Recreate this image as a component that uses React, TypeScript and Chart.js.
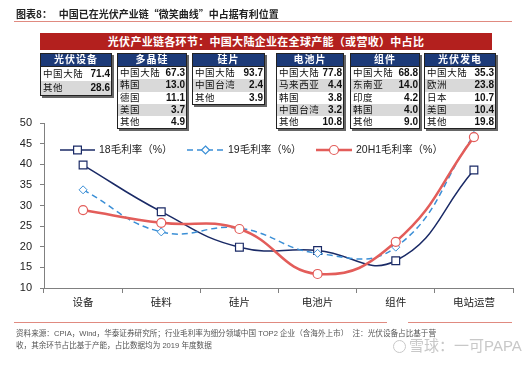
import React, { useEffect, useRef } from "react";
import { Chart, registerables } from "chart.js";

Chart.register(...registerables);

const categories = ["设备", "硅料", "硅片", "电池片", "组件", "电站运营"];
const margin18 = [39.8, 28.5, 19.9, 19.1, 16.6, 38.6];
const margin19 = [33.8, 23.6, 24.5, 18.4, 19.9, 47.0];
const margin20H1 = [28.9, 25.8, 24.3, 13.4, 21.2, 46.6];
const seriesNames = ["18毛利率（%）", "19毛利率（%）", "20H1毛利率（%）"];
const yTicks = { min: 10, max: 50, step: 5 };

const tableTitles = ["光伏设备", "多晶硅", "硅片", "电池片", "组件", "光伏发电"];
const tableRegions = [
  ["中国大陆", "其他"],
  ["中国大陆", "韩国", "德国", "美国", "其他"],
  ["中国大陆", "中国台湾", "其他"],
  ["中国大陆", "马来西亚", "韩国", "中国台湾", "其他"],
  ["中国大陆", "东南亚", "印度", "韩国", "其他"],
  ["中国大陆", "欧洲", "日本", "美国", "其他"],
];
const tableShares = [
  ["71.4", "28.6"],
  ["67.3", "13.0", "11.1", "3.7", "4.9"],
  ["93.7", "2.4", "3.9"],
  ["77.8", "4.4", "3.8", "3.2", "10.8"],
  ["68.8", "14.0", "4.2", "4.0", "9.0"],
  ["35.3", "23.8", "10.7", "10.4", "19.8"],
];

const tableX = [40, 117, 192, 276, 350, 424];
const tableW = [72, 70, 73, 68, 70, 72];

const CJK = '"Liberation Sans", Arial, "Noto Sans CJK SC", sans-serif';
const CJKF = '"Noto Sans CJK SC", sans-serif';

const NAVY = "#1a2a66";
const BLUE = "#3b8fd6";
const RED = "#e35d5a";

const legendPlugin = {
  id: "insideLegend",
  afterDraw(chart: any) {
    const ctx = chart.ctx;
    const y = 150;
    const items = [
      { x0: 60, x1: 95, tx: 99, color: NAVY, dash: [], style: "rect", r: 5.5, w: 1.5 },
      { x0: 187, x1: 224, tx: 228, color: BLUE, dash: [6, 4], style: "rectRot", r: 4, w: 1.5 },
      { x0: 316, x1: 352, tx: 356, color: RED, dash: [], style: "circle", r: 4.5, w: 2.5 },
    ];
    ctx.save();
    items.forEach((it, i) => {
      ctx.strokeStyle = it.color;
      ctx.lineWidth = it.w;
      ctx.setLineDash(it.dash);
      ctx.beginPath();
      ctx.moveTo(it.x0, y);
      ctx.lineTo(it.x1, y);
      ctx.stroke();
      ctx.setLineDash([]);
      ctx.lineWidth = 1.2;
      ctx.fillStyle = "#fff";
      ctx.strokeStyle = it.color;
      const cx = (it.x0 + it.x1) / 2;
      ctx.beginPath();
      if (it.style === "rect") {
        const s = it.r * Math.SQRT1_2;
        ctx.rect(cx - s, y - s, 2 * s, 2 * s);
      } else if (it.style === "rectRot") {
        ctx.moveTo(cx, y - it.r);
        ctx.lineTo(cx + it.r, y);
        ctx.lineTo(cx, y + it.r);
        ctx.lineTo(cx - it.r, y);
        ctx.closePath();
      } else {
        ctx.arc(cx, y, it.r, 0, Math.PI * 2);
      }
      ctx.fill();
      ctx.stroke();
      ctx.fillStyle = "#222";
      ctx.font = `10.5px ${CJK}`;
      ctx.textBaseline = "middle";
      ctx.textAlign = "left";
      ctx.fillText(seriesNames[i], it.tx, y + 0.5);
    });
    ctx.restore();
  },
};

function DataTable({ idx }: { idx: number }) {
  const rows = tableRegions[idx];
  const rowH = idx === 0 ? 14 : 12.3;
  return (
    <div
      style={{
        position: "absolute",
        left: tableX[idx],
        top: 53,
        width: tableW[idx],
        border: "1px solid #222",
        boxShadow: "2px 2px 0 #666",
        background: "#fff",
        boxSizing: "border-box",
      }}
    >
      <div
        style={{
          background: "#1c3a78",
          color: "#fff",
          fontWeight: "bold",
          fontSize: 10,
          height: 12,
          lineHeight: "12px",
          textAlign: "center",
          letterSpacing: 1,
          fontFamily: CJK,
          borderBottom: "1px solid #222",
        }}
      >
        {tableTitles[idx]}
      </div>
      {rows.map((r, i) => (
        <div
          key={i}
          style={{
            display: "flex",
            justifyContent: "space-between",
            height: rowH,
            lineHeight: rowH + "px",
            background: i % 2 === 1 ? "#d9d9d9" : "#fff",
            padding: "0 1px 0 2px",
            fontSize: 9.5,
            color: "#111",
            fontFamily: CJK,
          }}
        >
          <span style={{ letterSpacing: 0.6 }}>{r}</span>
          <span style={{ fontSize: 10, fontWeight: 600 }}>{tableShares[idx][i]}</span>
        </div>
      ))}
    </div>
  );
}

export default function App() {
  const ref = useRef<HTMLCanvasElement>(null);
  useEffect(() => {
    if (!ref.current) return;
    const chart = new Chart(ref.current, {
      type: "line",
      data: {
        labels: categories,
        datasets: [
          {
            label: seriesNames[0],
            data: margin18,
            borderColor: NAVY,
            borderWidth: 1.5,
            pointStyle: "rect",
            pointRadius: 5.5,
            pointBackgroundColor: "#fff",
            pointBorderColor: NAVY,
            pointBorderWidth: 1.2,
            tension: 0.45,
            order: 2,
          },
          {
            label: seriesNames[1],
            data: margin19,
            borderColor: BLUE,
            borderWidth: 1.5,
            borderDash: [6, 4],
            pointStyle: "rectRot",
            pointRadius: 4,
            pointBackgroundColor: "#fff",
            pointBorderColor: BLUE,
            pointBorderWidth: 1,
            tension: 0.45,
            order: 1,
          },
          {
            label: seriesNames[2],
            data: margin20H1,
            borderColor: RED,
            borderWidth: 2.5,
            pointStyle: "circle",
            pointRadius: 4.5,
            pointBackgroundColor: "#fff",
            pointBorderColor: RED,
            pointBorderWidth: 1.2,
            tension: 0.45,
            order: 0,
          },
        ],
      },
      options: {
        animation: false,
        responsive: false,
        layout: { padding: { top: 123, right: 12, bottom: 0, left: 0 } },
        plugins: { legend: { display: false }, tooltip: { enabled: false } },
        scales: {
          x: {
            offset: true,
            grid: { drawOnChartArea: false, tickLength: 5, color: "#808080", offset: true },
            border: { color: "#808080", width: 1 },
            ticks: { font: { size: 10.5, family: CJK }, color: "#222", padding: 4, maxRotation: 0 },
            afterFit: (s: any) => {
              s.height = 77;
            },
          },
          y: {
            min: yTicks.min,
            max: yTicks.max,
            grid: { drawOnChartArea: false, tickLength: 4, color: "#808080" },
            border: { color: "#808080", width: 1 },
            ticks: { stepSize: yTicks.step, font: { size: 11, family: CJK }, color: "#222", padding: 8 },
            afterFit: (s: any) => {
              s.width = 44;
            },
          },
        },
      },
      plugins: [legendPlugin],
    });
    return () => chart.destroy();
  }, []);

  return (
    <div
      style={{
        position: "fixed",
        left: 0,
        top: 0,
        width: 525,
        height: 365,
        background: "#fff",
        overflow: "hidden",
        fontFamily: CJK,
      }}
    >
      <canvas ref={ref} width={525} height={365} style={{ position: "absolute", left: 0, top: 0 }} />
      <div
        style={{
          position: "absolute",
          left: 16,
          top: 7,
          fontSize: 10,
          fontWeight: "bold",
          color: "#222",
          whiteSpace: "nowrap",
          lineHeight: "14px",
          fontFamily: CJKF,
        }}
      >
        图表8：&nbsp;&nbsp;&nbsp;中国已在光伏产业链“微笑曲线”中占据有利位置
      </div>
      <div style={{ position: "absolute", left: 14, top: 21, width: 498, height: 1, background: "#e08a80" }} />
      <div
        style={{
          position: "absolute",
          left: 40,
          top: 33,
          width: 452,
          height: 17,
          background: "#b3201e",
          color: "#fff",
          fontWeight: "bold",
          fontSize: 11,
          lineHeight: "17px",
          textAlign: "center",
          letterSpacing: 0.3,
          whiteSpace: "nowrap",
          fontFamily: CJKF,
        }}
      >
        光伏产业链各环节：中国大陆企业在全球产能（或营收）中占比
      </div>
      {tableTitles.map((_, i) => (
        <DataTable key={i} idx={i} />
      ))}
      <div style={{ position: "absolute", left: 14, top: 322, width: 373, height: 1, background: "#e08a80" }} />
      <div style={{ position: "absolute", left: 408, top: 322, width: 104, height: 1, background: "#e08a80" }} />
      <div
        style={{
          position: "absolute",
          left: 393,
          top: 337,
          fontSize: 15,
          color: "#c8c8c8",
          whiteSpace: "nowrap",
          lineHeight: "18px",
        }}
      >
        <span
          style={{
            display: "inline-block",
            width: 13,
            height: 13,
            border: "1.5px solid #c8c8c8",
            borderRadius: "50%",
            verticalAlign: "-2px",
            marginRight: 3,
            boxSizing: "border-box",
          }}
        />
        雪球：一可PAPA
      </div>
      <div
        style={{
          position: "absolute",
          left: 16,
          top: 328,
          fontSize: 7.6,
          color: "#555",
          whiteSpace: "nowrap",
          lineHeight: "12px",
        }}
      >
        资料来源：CPIA，Wind，华泰证券研究所；行业毛利率为细分领域中国 TOP2 企业（含海外上市）&nbsp;&nbsp;注：光伏设备占比基于营
        <br />
        收，其余环节占比基于产能，占比数据均为 2019 年度数据
      </div>
    </div>
  );
}
